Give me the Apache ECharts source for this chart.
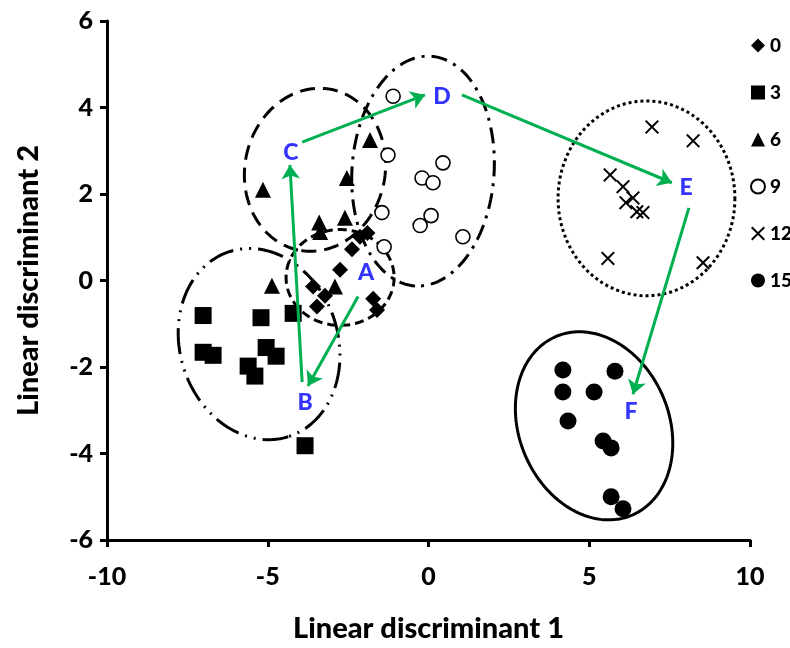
<!DOCTYPE html>
<html>
<head>
<meta charset="utf-8">
<script src="https://cdn.jsdelivr.net/npm/echarts@6/dist/echarts.min.js"></script>
<style>html,body{margin:0;padding:0;background:#fff;}#chart{width:790px;height:648px;}</style>
</head>
<body>
<div id="chart"></div>
<script>
// ---- data ----
var seriesNames = ['0', '3', '6', '9', '12', '15'];
var d0 = [[-2.75,0.25],[-3.59,-0.14],[-3.22,-0.35],[-3.47,-0.6],[-1.72,-0.42],[-1.6,-0.68],[-2.38,0.72],[-2.13,1.01],[-1.9,1.1]];
var d3 = [[-7.01,-0.81],[-5.21,-0.86],[-4.21,-0.76],[-7.01,-1.66],[-6.7,-1.73],[-5.05,-1.55],[-4.74,-1.75],[-5.61,-1.98],[-5.4,-2.21],[-3.84,-3.82]];
var d6 = [[-1.82,3.25],[-2.54,2.37],[-5.15,2.1],[-3.4,1.34],[-3.37,1.12],[-2.6,1.45],[-4.87,-0.12],[-2.91,-0.14]];
var d9 = [[-1.1,4.26],[-1.26,2.9],[0.45,2.72],[-0.2,2.37],[0.14,2.26],[-1.45,1.57],[0.08,1.5],[-0.26,1.27],[1.07,1.01],[-1.38,0.78]];
var d12 = [[6.95,3.55],[8.23,3.23],[5.65,2.44],[6.05,2.17],[6.36,1.91],[6.14,1.8],[6.48,1.59],[6.67,1.57],[5.58,0.51],[8.54,0.41]];
var d15 = [[4.18,-2.07],[5.8,-2.1],[4.18,-2.58],[5.15,-2.58],[4.34,-3.25],[5.43,-3.71],[5.68,-3.87],[5.68,-5.0],[6.05,-5.28]];

// group centre labels
var centreLabels = ['A', 'B', 'C', 'D', 'E', 'F'];
var centrePos = [[-1.94,0.18],[-3.84,-2.83],[-4.28,2.95],[0.42,4.26],[8.01,2.14],[6.3,-3.04]];

// arrows: [from, to]
var arrowFrom = [[-2.19,-0.37],[-3.93,-2.35],[-3.93,3.2],[1.04,4.29],[8.1,1.68]];
var arrowTo   = [[-3.75,-2.44],[-4.31,2.67],[-0.11,4.29],[7.57,2.26],[6.36,-2.63]];

// cluster outlines: centre x, centre y, semi-axis a, semi-axis b (x-axis units), angle (deg, screen)
var ellipseCX = [-2.75, -5.27, -3.53, -0.17, 6.78, 5.15];
var ellipseCY = [0.07, -1.47, 2.56, 2.53, 1.90, -3.36];
var ellipseA  = [1.68, 3.02, 2.55, 3.58, 2.75, 3.02];
var ellipseB  = [1.49, 2.46, 2.18, 2.21, 3.03, 2.33];
var ellipseAng = [0, 72.5, 102, 94, 0, 67];

// axis ticks
var xTicks = [-10, -5, 0, 5, 10];
var yTicks = [-6, -4, -2, 0, 2, 4, 6];

// ---- styles ----
var FONT = 'Lato';
var ellipseDash = [[9,5],[26,7,2,7,2,7],[15,8],[16,7,3,7],[3,3],null];

var chart = echarts.init(document.getElementById('chart'));

var crossPath = 'path://M0,1 L1,0 L5,4 L9,0 L10,1 L6,5 L10,9 L9,10 L5,6 L1,10 L0,9 L4,5 Z';

var ellipseData = ellipseCX.map(function (v, i) {
  return [v, ellipseCY[i], ellipseA[i], ellipseB[i], ellipseAng[i]];
});

var arrowData = arrowFrom.map(function (f, i) {
  return { coords: [f, arrowTo[i]] };
});

var labelData = centrePos.map(function (p, i) {
  return { value: p, name: centreLabels[i] };
});

function sc(name, data, symbol, size, fill, border, bw) {
  return {
    name: name, type: 'scatter', data: data, symbol: symbol, symbolSize: size,
    itemStyle: { color: fill, borderColor: border || fill, borderWidth: bw || 0, opacity: 1 },
    z: 5, emphasis: { disabled: true }
  };
}

var option = {
  animation: false,
  grid: { left: 107, right: 40, top: 21, bottom: 105, containLabel: false },
  xAxis: {
    type: 'value', min: -10, max: 10, interval: 5,
    name: 'Linear discriminant 1', nameLocation: 'middle', nameGap: 74,
    nameTextStyle: { fontFamily: FONT, fontWeight: 900, fontSize: 29, color: '#000' },
    axisLine: { show: true, onZero: false, lineStyle: { color: '#000', width: 3 } },
    axisTick: { show: true, inside: false, length: 7, lineStyle: { color: '#000', width: 3 } },
    axisLabel: { fontFamily: FONT, fontWeight: 900, fontSize: 25, color: '#000', margin: 24,
      formatter: function (v) { return xTicks.indexOf(v) >= 0 ? String(v) : ''; } },
    splitLine: { show: false }
  },
  yAxis: {
    type: 'value', min: -6, max: 6, interval: 2,
    name: 'Linear discriminant 2', nameLocation: 'middle', nameGap: 64, nameRotate: 90,
    nameTextStyle: { fontFamily: FONT, fontWeight: 900, fontSize: 29, color: '#000' },
    axisLine: { show: true, onZero: false, lineStyle: { color: '#000', width: 3 } },
    axisTick: { show: true, inside: false, length: 7, lineStyle: { color: '#000', width: 3 } },
    axisLabel: { fontFamily: FONT, fontWeight: 900, fontSize: 25, color: '#000', margin: 14,
      formatter: function (v) { return yTicks.indexOf(v) >= 0 ? String(v) : ''; } },
    splitLine: { show: false }
  },
  legend: {
    data: seriesNames, orient: 'vertical', left: 745, top: 31,
    itemWidth: 14, itemHeight: 14, itemGap: 28,
    textStyle: { fontFamily: FONT, fontWeight: 900, fontSize: 19, color: '#000' },
    selectedMode: false
  },
  series: [
    {
      type: 'custom', name: 'outlines', data: ellipseData, z: 2, silent: true,
      renderItem: function (params, api) {
        var c = api.coord([api.value(0), api.value(1)]);
        var unit = api.size([1, 0])[0];
        var a = api.value(2) * unit, b = api.value(3) * unit;
        var th = api.value(4) * Math.PI / 180;
        var pts = [];
        for (var k = 0; k < 180; k++) {
          var t = k / 180 * 2 * Math.PI;
          pts.push([
            c[0] + a * Math.cos(t) * Math.cos(th) - b * Math.sin(t) * Math.sin(th),
            c[1] + a * Math.cos(t) * Math.sin(th) + b * Math.sin(t) * Math.cos(th)
          ]);
        }
        var dash = ellipseDash[params.dataIndex];
        return {
          type: 'polygon', shape: { points: pts },
          style: { fill: 'none', stroke: '#000', lineWidth: 3, lineDash: dash || null, lineCap: 'butt' }
        };
      }
    },
    sc('0', d0, 'diamond', 16, '#000'),
    sc('3', d3, 'rect', 17, '#000'),
    sc('6', d6, 'triangle', 16, '#000'),
    sc('9', d9, 'circle', 14, '#fff', '#000', 1.6),
    sc('12', d12, crossPath, 14, '#000'),
    sc('15', d15, 'circle', 17, '#000'),
    {
      type: 'lines', name: 'arrows', coordinateSystem: 'cartesian2d', data: arrowData, z: 6,
      symbol: ['none', 'arrow'], symbolSize: [0, 14], silent: true,
      lineStyle: { color: '#00B050', width: 3, opacity: 1, curveness: 0 }
    },
    {
      type: 'scatter', name: 'centres', data: labelData, symbolSize: 1, z: 7, silent: true,
      itemStyle: { color: 'rgba(0,0,0,0)' },
      label: { show: true, position: 'inside', formatter: '{b}', color: '#0000FF',
        fontFamily: FONT, fontWeight: 900, fontSize: 23 }
    }
  ]
};
chart.setOption(option);
</script>
</body>
</html>
